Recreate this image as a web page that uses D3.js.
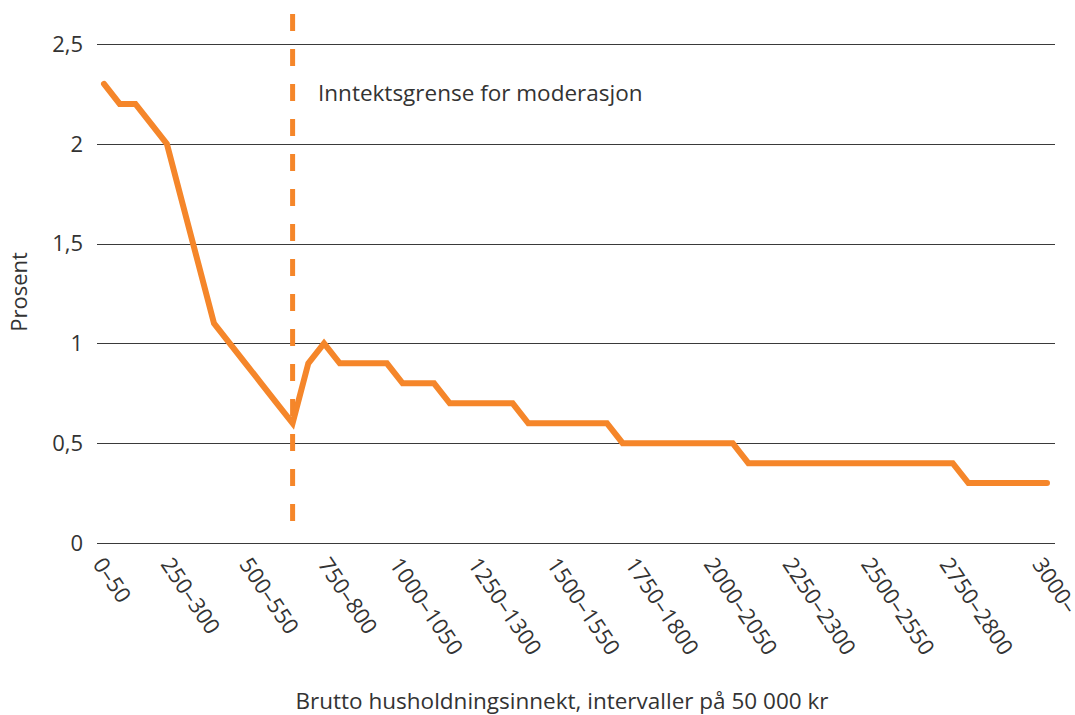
<!DOCTYPE html>
<html>
<head>
<meta charset="utf-8">
<script src="https://cdn.jsdelivr.net/npm/d3@7"></script>
<style>
  body { margin: 0; background: #fff; }
  text { font-family: "Open Sans", sans-serif; fill: #333; }
</style>
</head>
<body>
<script>
// categories: income intervals of 50 000 kr
var categories = [];
for (var k = 0; k < 60; k++) {
    categories.push((k * 50) + "\u2013" + (k * 50 + 50));
}
categories.push("3000\u2013");

// percent per interval
var values = [
    2.3, 2.2, 2.2, 2.1, 2.0, 1.7, 1.4, 1.1, 1.0, 0.9,
    0.8, 0.7, 0.6, 0.9, 1.0, 0.9, 0.9, 0.9, 0.9, 0.8,
    0.8, 0.8, 0.7, 0.7, 0.7, 0.7, 0.7, 0.6, 0.6, 0.6,
    0.6, 0.6, 0.6, 0.5, 0.5, 0.5, 0.5, 0.5, 0.5, 0.5,
    0.5, 0.4, 0.4, 0.4, 0.4, 0.4, 0.4, 0.4, 0.4, 0.4,
    0.4, 0.4, 0.4, 0.4, 0.4, 0.3, 0.3, 0.3, 0.3, 0.3,
    0.3
];

var yTicks = [0, 0.5, 1, 1.5, 2, 2.5];
var limitCategory = "600\u2013650";
var limitLabel = "Inntektsgrense for moderasjon";

var orange = "#f5862a";
var fontSize = "22.5px";
var width = 1075, height = 715;
var angle = 56;

var xScale = d3.scalePoint().domain(categories).range([104, 1047]);
var yScale = d3.scaleLinear().domain([0, 2.5]).range([543, 44]);

var svg = d3.select("body").append("svg")
    .attr("width", width)
    .attr("height", height);

// gridlines
svg.append("g")
    .selectAll("line")
    .data(yTicks)
    .enter()
    .append("line")
    .attr("x1", 97)
    .attr("x2", 1055)
    .attr("y1", function(d) { return Math.round(yScale(d)) + 0.5; })
    .attr("y2", function(d) { return Math.round(yScale(d)) + 0.5; })
    .attr("stroke", "#3a3a3a")
    .attr("stroke-width", 1);

// y tick labels
svg.append("g")
    .selectAll("text")
    .data(yTicks)
    .enter()
    .append("text")
    .attr("x", 83)
    .attr("y", function(d) { return yScale(d); })
    .attr("dy", "0.35em")
    .attr("text-anchor", "end")
    .style("font-size", "22px")
    .text(function(d) { return String(d).replace(".", ","); });

// x tick labels, every 5th interval
// rotated labels are centred under the tick, with their top at a fixed height
var shown = categories.filter(function(d, i) { return i % 5 === 0; });
var sin = Math.sin(angle * Math.PI / 180);
svg.append("g")
    .selectAll("text")
    .data(shown)
    .enter()
    .append("text")
    .attr("dy", "0.35em")
    .attr("text-anchor", "middle")
    .style("font-size", "22px")
    .text(function(d) { return d; })
    .attr("transform", function(d) {
        var len = this.getComputedTextLength();
        var cy = 560 + (len / 2) * sin;
        return "translate(" + (xScale(d) + 8) + "," + cy + ") rotate(" + angle + ")";
    });

// income limit
svg.append("line")
    .attr("x1", xScale(limitCategory))
    .attr("x2", xScale(limitCategory))
    .attr("y1", 14)
    .attr("y2", 523)
    .attr("stroke", orange)
    .attr("stroke-width", 5)
    .attr("stroke-dasharray", "17,18");

svg.append("text")
    .attr("x", 318)
    .attr("y", 101)
    .style("font-size", fontSize)
    .text(limitLabel);

// the line
var line = d3.line()
    .x(function(d, i) { return xScale(categories[i]); })
    .y(function(d) { return yScale(d); });

svg.append("path")
    .datum(values)
    .attr("d", line)
    .attr("fill", "none")
    .attr("stroke", orange)
    .attr("stroke-width", 6)
    .attr("stroke-linejoin", "miter")
    .attr("stroke-linecap", "round");

// axis titles
svg.append("text")
    .attr("transform", "translate(27,292) rotate(-90)")
    .attr("text-anchor", "middle")
    .style("font-size", "22px")
    .text("Prosent");

svg.append("text")
    .attr("x", 562)
    .attr("y", 709)
    .attr("text-anchor", "middle")
    .style("font-size", fontSize)
    .text("Brutto husholdningsinnekt, intervaller p\u00e5 50 000 kr");
</script>
</body>
</html>
